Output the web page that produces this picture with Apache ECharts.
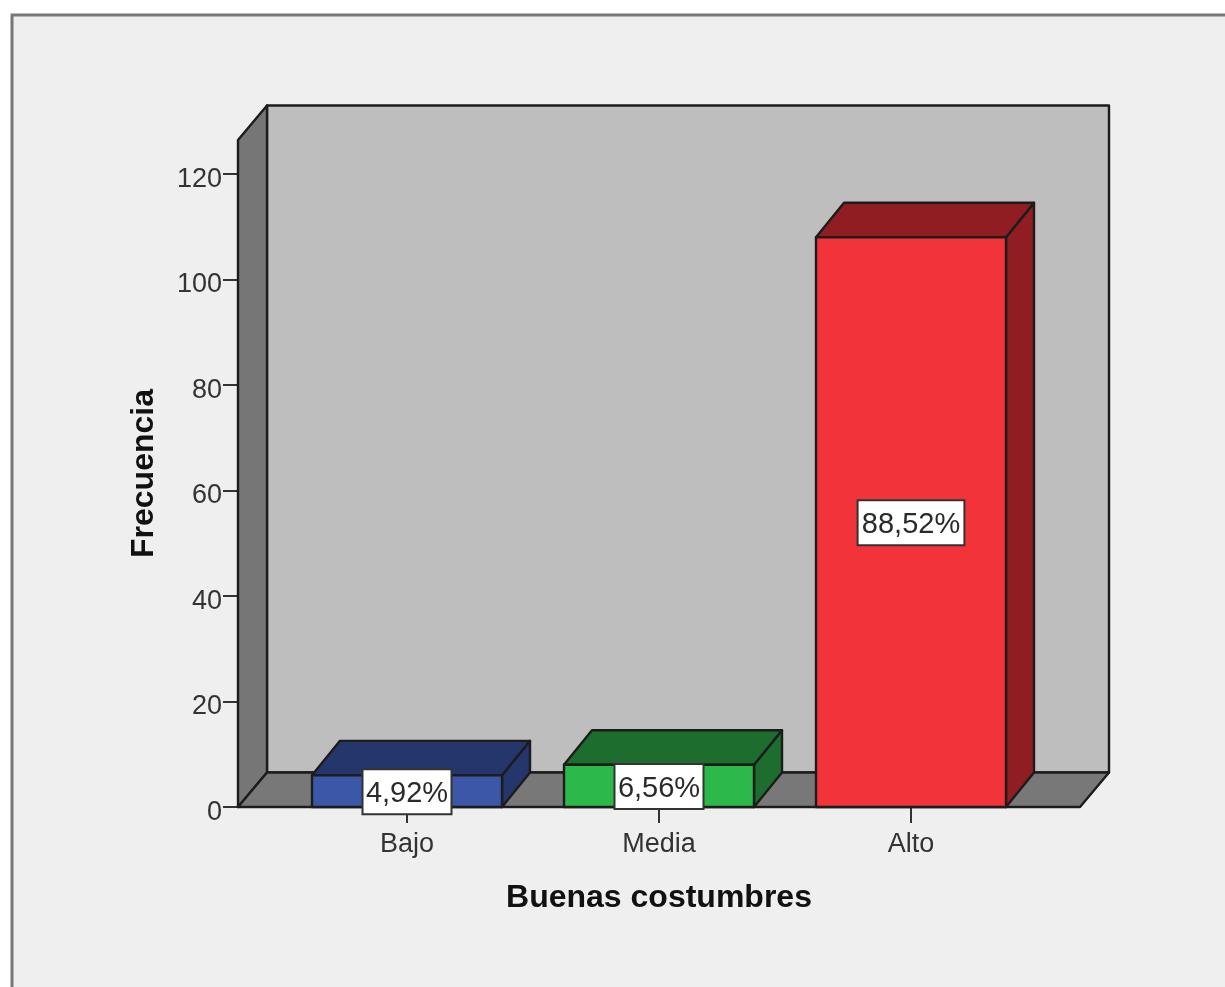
<!DOCTYPE html>
<html>
<head>
<meta charset="utf-8">
<style>html,body{margin:0;padding:0;background:#fff}#c{width:1225px;height:987px}</style>
<script src="https://cdn.jsdelivr.net/npm/echarts@6/dist/echarts.min.js"></script>
</head>
<body>
<div id="c"></div>
<script>
const categories = ['Bajo', 'Media', 'Alto'];
const frecuencia = [6, 8, 108];
const porcentajes = ['4,92%', '6,56%', '88,52%'];
const yTicks = [0, 20, 40, 60, 80, 100, 120];
const yMax = 126.45;
const frontColors = ['#3C57A8', '#2DB84A', '#F2333A'];
const sideColors = ['#24366C', '#1D6E2E', '#8F1D21'];

const DX = 29, DY = -34.5, LINE = '#1c1c1c', LW = 2.4;
const chart = echarts.init(document.getElementById('c'), null, { renderer: 'canvas' });

function poly(points, fill, z2) {
  return { type: 'polygon', z2: z2 || 0, shape: { points },
    style: { fill, stroke: LINE, lineWidth: LW, lineJoin: 'round' } };
}

function renderWalls(params, api) {
  const cs = params.coordSys;
  const pad = 43;
  const l = cs.x - pad, r = cs.x + cs.width + pad, t = cs.y, b = cs.y + cs.height;
  return { type: 'group', children: [
    poly([[l + DX, t + DY], [r + DX, t + DY], [r + DX, b + DY], [l + DX, b + DY]], '#BEBEBE'),
    poly([[l, t], [l + DX, t + DY], [l + DX, b + DY], [l, b]], '#767676'),
    poly([[l, b], [l + DX, b + DY], [r + DX, b + DY], [r, b]], '#787878')
  ] };
}

function renderBar(params, api) {
  const i = api.value(0), v = api.value(1);
  const top = api.coord([i, v]), base = api.coord([i, 0]);
  const w = api.size([1, 0])[0] * 0.754;
  const x0 = top[0] - w / 2, x1 = top[0] + w / 2, yt = top[1], yb = base[1];
  const dx = 28, dy = -34.5;
  const mid = api.coord([i, v / 2]);
  const boxW = porcentajes[i].length * 17.8, boxH = 45;
  return { type: 'group', children: [
    poly([[x1, yt], [x1 + dx, yt + dy], [x1 + dx, yb + dy], [x1, yb]], sideColors[i]),
    poly([[x0, yt], [x0 + dx, yt + dy], [x1 + dx, yt + dy], [x1, yt]], sideColors[i]),
    poly([[x0, yt], [x1, yt], [x1, yb], [x0, yb]], frontColors[i]),
    { type: 'rect', z2: 9, shape: { x: mid[0] - boxW / 2, y: mid[1] - 22, width: boxW, height: boxH },
      style: { fill: '#fff', stroke: '#333', lineWidth: 2 } },
    { type: 'text', z2: 10, x: mid[0], y: mid[1] + 3, style: {
        text: porcentajes[i], x: 0, y: 0, align: 'center', verticalAlign: 'middle',
        fontFamily: '"Liberation Sans", Arial, sans-serif', fontSize: 29, fill: '#2a2a2a'
    } }
  ] };
}

chart.setOption({
  animation: false,
  backgroundColor: '#ffffff',
  textStyle: { fontFamily: '"Liberation Sans", Arial, sans-serif' },
  graphic: [{ type: 'rect', z: -1, shape: { x: 12, y: 15, width: 1400, height: 1200 },
    style: { fill: '#EFEFEF', stroke: '#777', lineWidth: 3 } }],
  grid: { left: 281, width: 756, top: 140, height: 667 },
  xAxis: {
    type: 'category', data: categories, boundaryGap: true, z: 0,
    name: 'Buenas costumbres', nameLocation: 'middle', nameGap: 75,
    nameTextStyle: { fontSize: 32, fontWeight: 'bold', color: '#111' },
    axisLine: { show: false },
    axisTick: { show: true, alignWithLabel: true, length: 16, lineStyle: { color: '#333', width: 2 } },
    axisLabel: { margin: 24, fontSize: 27, color: '#333' }
  },
  yAxis: {
    type: 'value', min: 0, max: yMax, offset: 43, interval: 20, z: 0,
    name: 'Frecuencia', nameLocation: 'middle', nameGap: 78, nameRotate: 90,
    nameTextStyle: { fontSize: 32, fontWeight: 'bold', color: '#111' },
    splitLine: { show: false },
    axisLine: { show: false },
    axisTick: { show: true, length: 15, customValues: yTicks, lineStyle: { color: '#333', width: 2 } },
    axisLabel: { margin: 16, fontSize: 27, color: '#333', verticalAlign: 'top', lineHeight: 11, customValues: yTicks }
  },
  series: [
    { type: 'custom', silent: true, clip: false, z: 1, renderItem: renderWalls, data: [[0, 0]] },
    { type: 'custom', silent: true, clip: false, z: 2, renderItem: renderBar,
      encode: { x: 0, y: 1 },
      data: categories.map((c, i) => [i, frecuencia[i]]) }
  ]
});
</script>
</body>
</html>
